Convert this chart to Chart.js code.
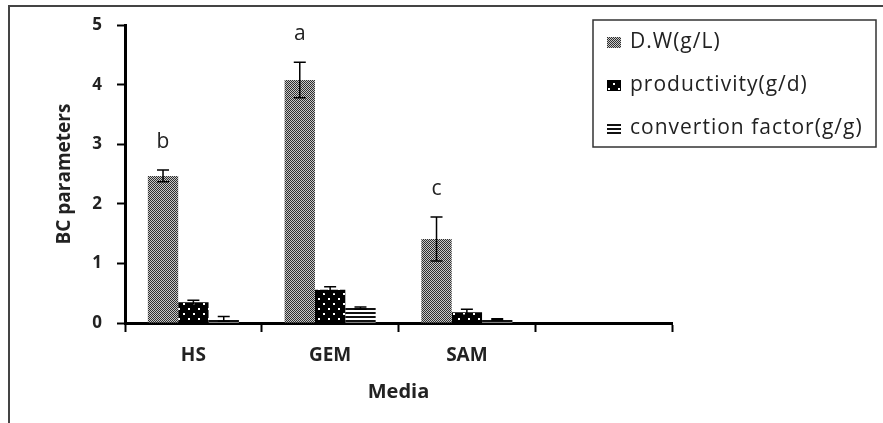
<!DOCTYPE html>
<html>
<head>
<meta charset="utf-8">
<script src="https://cdn.jsdelivr.net/npm/chart.js@4.4.0/dist/chart.umd.min.js"></script>
<style>
  html, body { margin: 0; padding: 0; background: #fff; }
  #wrap { position: relative; width: 883px; height: 423px; overflow: hidden; }
  #frame { position: absolute; left: 8px; top: 5px; width: 900px; height: 440px;
           border: 2px solid #444; box-sizing: border-box; pointer-events: none; }
</style>
</head>
<body>
<div id="wrap">
  <canvas id="chart" width="883" height="423"></canvas>
  <div id="frame"></div>
</div>
<script>
// Media categories (last slot is empty in the original figure)
const categories = ['HS', 'GEM', 'SAM', ''];

const seriesNames = ['D.W(g/L)', 'productivity(g/d)', 'convertion factor(g/g)'];

const dryWeight = [2.47, 4.08, 1.41, null];
const dryWeightErr = [0.10, 0.30, 0.37, null];

const productivity = [0.35, 0.56, 0.18, null];
const productivityErr = [0.03, 0.05, 0.05, null];

const conversion = [0.07, 0.25, 0.06, null];
const conversionErr = [0.04, 0.02, 0.01, null];

// significance letters above the D.W bars
const letters = ['b', 'a', 'c', ''];

const yTicks = [0, 1, 2, 3, 4, 5];

const FONT = '"Open Sans", "Noto Sans", sans-serif';

// ---- fill patterns ----
function makePattern(w, h, draw) {
  const c = document.createElement('canvas');
  c.width = w; c.height = h;
  const g = c.getContext('2d');
  draw(g);
  return c.getContext('2d').createPattern(c, 'repeat');
}

const dwPattern = makePattern(2, 2, g => {
  g.fillStyle = '#c8c8c8'; g.fillRect(0, 0, 2, 2);
  g.fillStyle = '#2e2e2e'; g.fillRect(0, 0, 1, 1); g.fillRect(1, 1, 1, 1);
});

const prodPattern = makePattern(10, 10, g => {
  g.fillStyle = '#000'; g.fillRect(0, 0, 10, 10);
  g.fillStyle = '#fff'; g.fillRect(3, 3, 2, 2); g.fillRect(8, 8, 2, 2);
});

const convPattern = makePattern(4, 4, g => {
  g.fillStyle = '#fff'; g.fillRect(0, 0, 4, 4);
  g.fillStyle = '#111'; g.fillRect(0, 0, 4, 2);
});

const patterns = [dwPattern, prodPattern, convPattern];

// ---- error bars + letters ----
const errorBarPlugin = {
  id: 'errorBars',
  afterDatasetsDraw(chart) {
    const { ctx, scales: { y } } = chart;
    ctx.save();
    chart.data.datasets.forEach((ds, i) => {
      const meta = chart.getDatasetMeta(i);
      meta.data.forEach((bar, j) => {
        const v = ds.data[j];
        const e = ds.errors[j];
        if (v == null || e == null) return;
        const top = y.getPixelForValue(v + e);
        const bot = y.getPixelForValue(v - e);
        const x = bar.x;
        ctx.strokeStyle = '#000';
        ctx.lineWidth = 1.5;
        ctx.beginPath();
        ctx.moveTo(x, top); ctx.lineTo(x, bot);
        ctx.moveTo(x - 6, top); ctx.lineTo(x + 6, top);
        ctx.moveTo(x - 6, bot); ctx.lineTo(x + 6, bot);
        ctx.stroke();
        if (i === 0 && letters[j]) {
          ctx.fillStyle = '#222';
          ctx.font = '21px ' + FONT;
          ctx.textAlign = 'center';
          ctx.textBaseline = 'middle';
          ctx.fillText(letters[j], x, top - 28);
        }
      });
    });
    ctx.restore();
  }
};

// ---- boxed legend ----
const boxLegendPlugin = {
  id: 'boxLegend',
  afterDraw(chart) {
    const { ctx } = chart;
    const bx = 593, by = 20, bw = 283, bh = 127;
    ctx.save();
    ctx.fillStyle = '#fff';
    ctx.fillRect(bx, by, bw, bh);
    ctx.strokeStyle = '#333';
    ctx.lineWidth = 1.5;
    ctx.strokeRect(bx, by, bw, bh);
    ctx.font = '21px ' + FONT;
    ctx.letterSpacing = '1px';
    ctx.textBaseline = 'middle';
    ctx.textAlign = 'left';
    chart.data.datasets.forEach((ds, i) => {
      const cy = 42 + i * 43;
      ctx.fillStyle = patterns[i];
      ctx.fillRect(607, cy - 5, 14, 11);
      ctx.fillStyle = '#222';
      ctx.fillText(ds.label, 630, cy);
    });
    ctx.restore();
  }
};

const mkSet = (i, data, errors) => ({
  label: seriesNames[i],
  data,
  errors,
  backgroundColor: patterns[i],
  borderWidth: 0,
  categoryPercentage: 0.666,
  barPercentage: 1.0
});

new Chart(document.getElementById('chart'), {
  type: 'bar',
  data: {
    labels: categories,
    datasets: [
      mkSet(0, dryWeight, dryWeightErr),
      mkSet(1, productivity, productivityErr),
      mkSet(2, conversion, conversionErr)
    ]
  },
  options: {
    responsive: false,
    animation: false,
    layout: { padding: { left: 53, right: 211, top: 12, bottom: 19 } },
    plugins: {
      legend: { display: false },
      tooltip: { enabled: false }
    },
    scales: {
      x: {
        border: { color: '#000', width: 3 },
        grid: { drawOnChartArea: false, tickLength: 9, tickColor: '#000', tickWidth: 2 },
        ticks: { color: '#222', padding: 12, font: { family: FONT, size: 19, weight: 'bold' } },
        title: { display: true, text: 'Media', color: '#222', padding: 0,
                 font: { family: FONT, size: 20, weight: 'bold' } },
        afterFit(scale) { scale.height = 81; }
      },
      y: {
        min: 0,
        max: 5,
        afterBuildTicks(scale) { scale.ticks = yTicks.map(v => ({ value: v })); },
        border: { color: '#000', width: 3 },
        grid: { drawOnChartArea: false, tickLength: 8, tickColor: '#000', tickWidth: 2 },
        ticks: { color: '#222', padding: 15, font: { family: FONT, size: 17, weight: 'bold' } },
        title: { display: true, text: 'BC parameters', color: '#222', padding: 0,
                 font: { family: FONT, size: 19, weight: 'bold' } },
        afterFit(scale) { scale.width = 72; }
      }
    }
  },
  plugins: [errorBarPlugin, boxLegendPlugin]
});
</script>
</body>
</html>
